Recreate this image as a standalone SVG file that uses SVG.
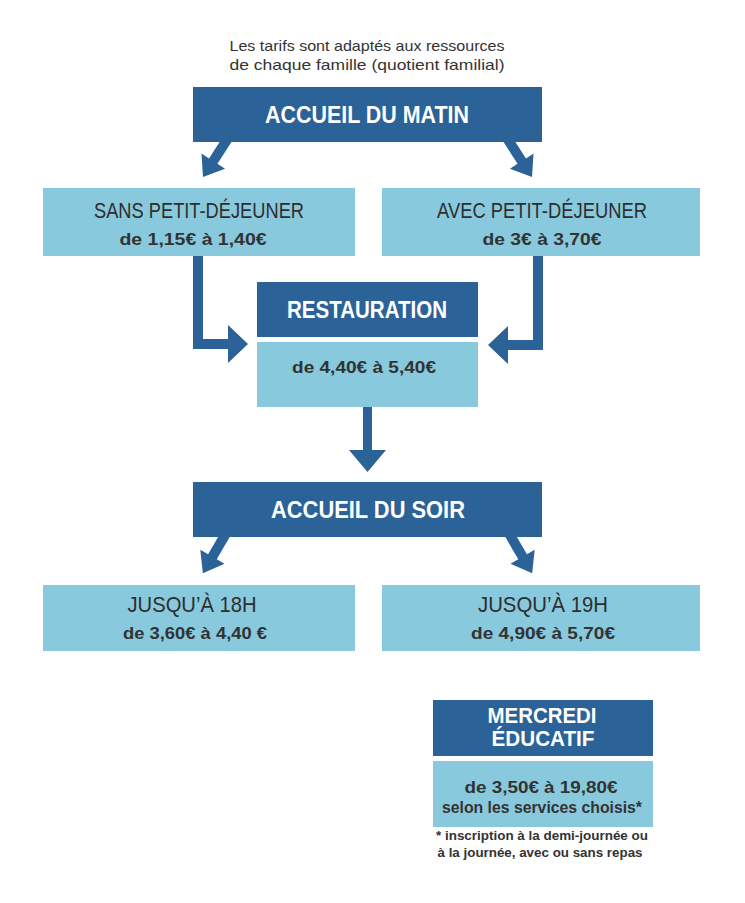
<svg xmlns="http://www.w3.org/2000/svg" width="745" height="903" viewBox="0 0 745 903">
<defs>
<style>
.dark{fill:#2b6297;}
.light{fill:#88c9de;}
.arrow{fill:#2b6297;}
.h{font-family:"Liberation Sans",Arial,sans-serif;font-weight:bold;fill:#ffffff;text-anchor:middle;}
.t{font-family:"Liberation Sans",Arial,sans-serif;fill:#2e2e2e;text-anchor:middle;}
.s{font-family:"Liberation Sans",Arial,sans-serif;font-weight:bold;fill:#333333;text-anchor:middle;}
.n{font-family:"Liberation Sans",Arial,sans-serif;fill:#333333;text-anchor:middle;}
</style>
</defs>
<rect width="745" height="903" fill="#ffffff"/>
<g id="intro">
<text class="n" x="367" y="51" font-size="15" textLength="275" lengthAdjust="spacingAndGlyphs">Les tarifs sont adaptés aux ressources</text>
<text class="n" x="367" y="70" font-size="15" textLength="275" lengthAdjust="spacingAndGlyphs">de chaque famille (quotient familial)</text>
</g>
<g id="connectors">
<polygon class="arrow" transform="translate(230,135) rotate(32.7)" points="-5,0 5,0 5,31 14,31 0,50 -14,31 -5,31"/>
<polygon class="arrow" transform="translate(505,135) rotate(-32.7)" points="-5,0 5,0 5,31 14,31 0,50 -14,31 -5,31"/>
<polygon class="arrow" points="193,252 203,252 203,339 228,339 228,325 248,344 228,363 228,349 193,349"/>
<polygon class="arrow" points="543,252 533,252 533,340 508,340 508,326 488,345 508,364 508,350 543,350"/>
<polygon class="arrow" points="363,404 372,404 372,450 386,450 367.5,472 349,450 363,450"/>
<polygon class="arrow" transform="translate(228,530) rotate(30.2)" points="-5,0 5,0 5,31 14,31 0,50 -14,31 -5,31"/>
<polygon class="arrow" transform="translate(507,530) rotate(-30.2)" points="-5,0 5,0 5,31 14,31 0,50 -14,31 -5,31"/>
</g>
<g id="accueil-matin">
<rect class="dark" x="193" y="87" width="349" height="55"/>
<text class="h" x="367" y="123" font-size="24" textLength="204" lengthAdjust="spacingAndGlyphs">ACCUEIL DU MATIN</text>
</g>
<g id="sans-petit-dejeuner">
<rect class="light" x="43" y="188" width="312" height="68"/>
<text class="t" x="199" y="218" font-size="22" textLength="210" lengthAdjust="spacingAndGlyphs">SANS PETIT-DÉJEUNER</text>
<text class="s" x="193" y="245" font-size="17" textLength="147" lengthAdjust="spacingAndGlyphs">de 1,15€ à 1,40€</text>
</g>
<g id="avec-petit-dejeuner">
<rect class="light" x="382" y="188" width="318" height="68"/>
<text class="t" x="542" y="218" font-size="22" textLength="210" lengthAdjust="spacingAndGlyphs">AVEC PETIT-DÉJEUNER</text>
<text class="s" x="542" y="245" font-size="17" textLength="119" lengthAdjust="spacingAndGlyphs">de 3€ à 3,70€</text>
</g>
<g id="restauration">
<rect class="dark" x="257" y="282" width="221" height="55"/>
<text class="h" x="367" y="318" font-size="23" textLength="160" lengthAdjust="spacingAndGlyphs">RESTAURATION</text>
<rect class="light" x="257" y="342" width="221" height="65"/>
<text class="s" x="364" y="373" font-size="17" textLength="144" lengthAdjust="spacingAndGlyphs">de 4,40€ à 5,40€</text>
</g>
<g id="accueil-soir">
<rect class="dark" x="193" y="482" width="349" height="55"/>
<text class="h" x="368" y="518" font-size="23" textLength="194" lengthAdjust="spacingAndGlyphs">ACCUEIL DU SOIR</text>
</g>
<g id="jusqua-18h">
<rect class="light" x="43" y="585" width="312" height="66"/>
<text class="t" x="192" y="612" font-size="22" textLength="129" lengthAdjust="spacingAndGlyphs">JUSQU’À 18H</text>
<text class="s" x="195" y="639" font-size="17" textLength="144" lengthAdjust="spacingAndGlyphs">de 3,60€ à 4,40 €</text>
</g>
<g id="jusqua-19h">
<rect class="light" x="382" y="585" width="318" height="66"/>
<text class="t" x="543" y="612" font-size="22" textLength="130" lengthAdjust="spacingAndGlyphs">JUSQU’À 19H</text>
<text class="s" x="543" y="639" font-size="17" textLength="144" lengthAdjust="spacingAndGlyphs">de 4,90€ à 5,70€</text>
</g>
<g id="mercredi-educatif">
<rect class="dark" x="433" y="700" width="220" height="56"/>
<text class="h" x="542" y="723" font-size="22" textLength="109" lengthAdjust="spacingAndGlyphs">MERCREDI</text>
<text class="h" x="543" y="746" font-size="22" textLength="103" lengthAdjust="spacingAndGlyphs">ÉDUCATIF</text>
<rect class="light" x="433" y="761" width="220" height="66"/>
<text class="s" x="541" y="793" font-size="17" textLength="153" lengthAdjust="spacingAndGlyphs">de 3,50€ à 19,80€</text>
<text class="s" x="542" y="813" font-size="16" textLength="200" lengthAdjust="spacingAndGlyphs">selon les services choisis*</text>
</g>
<g id="note">
<text class="s" x="542" y="840" font-size="12" textLength="212" lengthAdjust="spacingAndGlyphs">* inscription à la demi-journée ou</text>
<text class="s" x="540" y="857" font-size="12" textLength="205" lengthAdjust="spacingAndGlyphs">à la journée, avec ou sans repas</text>
</g>
</svg>
